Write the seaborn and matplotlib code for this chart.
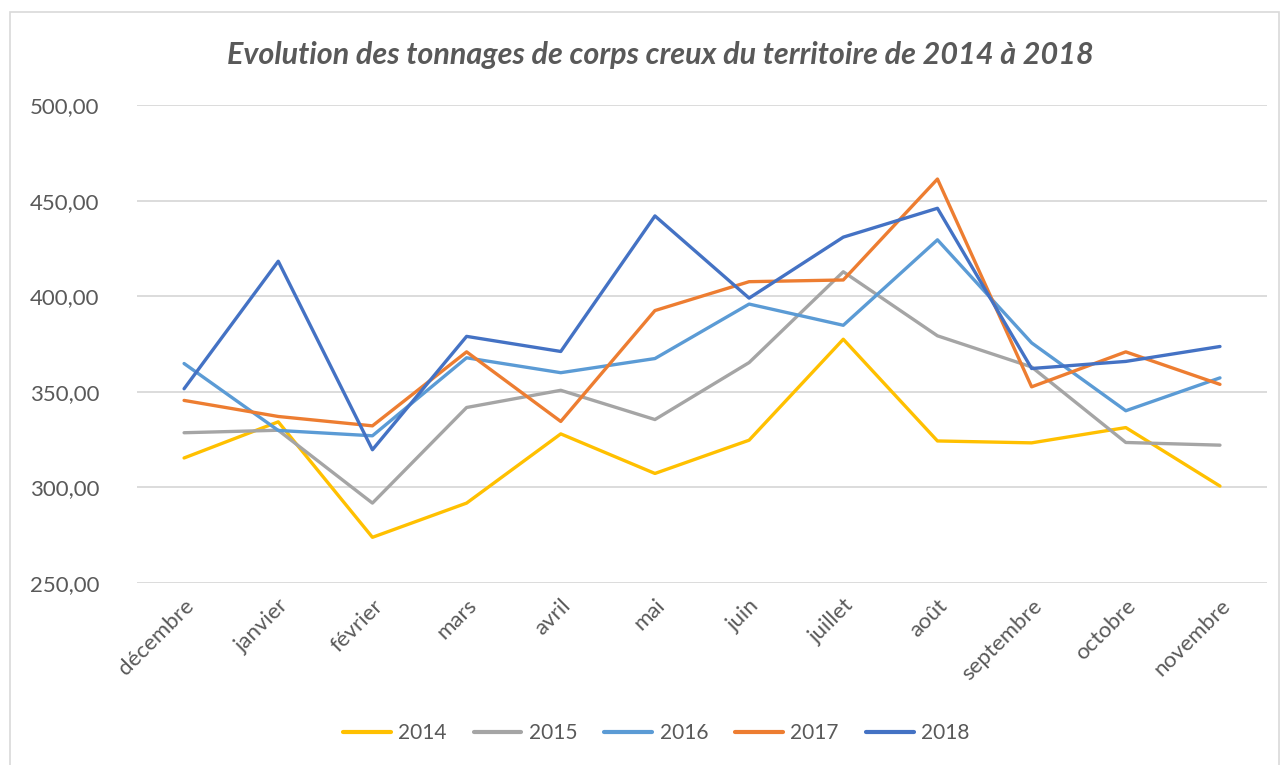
import numpy as np
import pandas as pd
import matplotlib.pyplot as plt
import seaborn as sns
from matplotlib.patches import Rectangle
from matplotlib.ticker import FuncFormatter

# months, in the order of the chart (december first)
months = ['décembre', 'janvier', 'février', 'mars', 'avril', 'mai', 'juin',
          'juillet', 'août', 'septembre', 'octobre', 'novembre']
years = ['2014', '2015', '2016', '2017', '2018']

t2014 = [315.4, 334.3, 273.9, 291.8, 328.0, 307.3, 324.7, 377.5, 324.3, 323.3, 331.3, 300.7]
t2015 = [328.6, 329.9, 291.8, 341.8, 350.8, 335.5, 365.3, 412.8, 379.3, 363.0, 323.5, 322.1]
t2016 = [364.8, 329.8, 327.0, 367.8, 360.0, 367.4, 395.9, 384.8, 429.5, 375.6, 340.1, 357.3]
t2017 = [345.5, 337.1, 332.2, 370.9, 334.5, 392.5, 407.6, 408.5, 461.3, 352.6, 370.9, 353.9]
t2018 = [351.6, 418.3, 319.7, 379.0, 371.1, 442.0, 399.0, 430.9, 446.0, 362.2, 365.9, 373.7]

colors = {'2014': '#FFC000', '2015': '#A5A5A5', '2016': '#5B9BD5',
          '2017': '#ED7D31', '2018': '#4472C4'}

df = pd.DataFrame({
    'mois': months * 5,
    'annee': np.repeat(years, 12),
    'tonnage': t2014 + t2015 + t2016 + t2017 + t2018,
})

sns.set_style('white')
plt.rcParams['font.family'] = ['Lato', 'DejaVu Sans']
txt = '#595959'

fig = plt.figure(figsize=(12.84, 7.65), dpi=100)
ax = fig.add_axes([0.1067, 0.2379, 0.8801, 0.6248])

sns.lineplot(data=df, x='mois', y='tonnage', hue='annee', palette=colors,
             sort=False, linewidth=2.4, ax=ax)

ax.set_xlim(-0.5, 11.5)
ax.set_ylim(250, 500)
ax.set_yticks(np.arange(250, 501, 50))
ax.yaxis.set_major_formatter(FuncFormatter(lambda v, p: f'{v:.2f}'.replace('.', ',')))
ax.grid(axis='y', color='#D9D9D9', linewidth=1.3)
ax.set_axisbelow(True)
for s in ax.spines.values():
    s.set_visible(False)
ax.set_xlabel('')
ax.set_ylabel('')
ax.tick_params(axis='both', length=0, labelsize=16, colors=txt)
ax.tick_params(axis='y', pad=27)
plt.setp(ax.get_xticklabels(), rotation=45, ha='right', rotation_mode='anchor')
ax.tick_params(axis='x', pad=9)

ax.get_legend().remove()
handles, labels = ax.get_legend_handles_labels()
for h in handles:
    h.set_linewidth(3)
fig.legend(handles, labels, loc='center', bbox_to_anchor=(0.511, 0.042), ncol=5,
           frameon=False, fontsize=15, labelcolor=txt, handlelength=2.3,
           handletextpad=0.35, columnspacing=1.3)

fig.text(0.514, 0.928, 'Evolution des tonnages de corps creux du territoire de 2014 à 2018',
         ha='center', va='center', fontsize=22, fontweight='bold',
         fontstyle='italic', color=txt)

fig.patches.append(Rectangle((10 / 1284, -0.01), 1269 / 1284, 1 - 12 / 765 + 0.01,
                             transform=fig.transFigure, fill=False,
                             edgecolor='#D9D9D9', linewidth=1.2))

fig.savefig('out.png', dpi=100)
